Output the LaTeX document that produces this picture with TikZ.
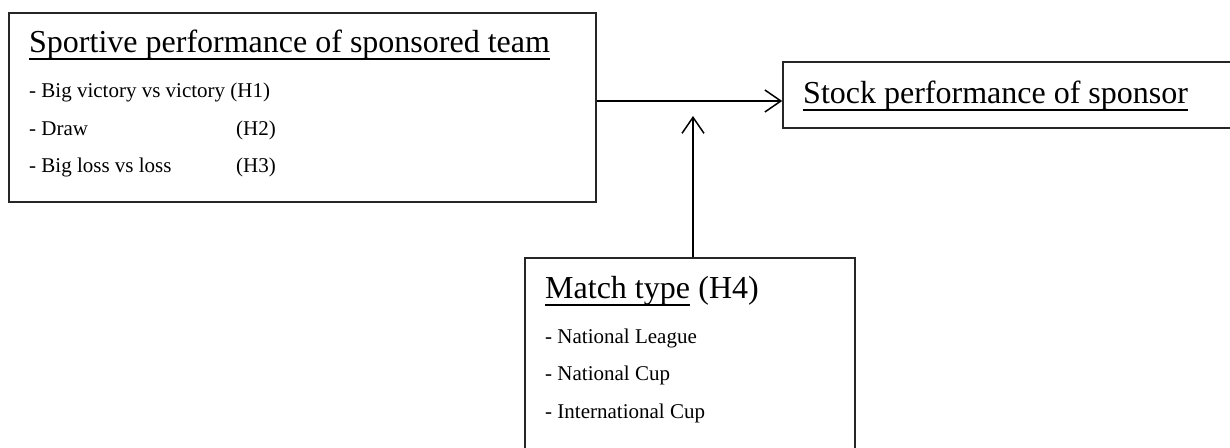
\documentclass[tikz,border=0pt]{standalone}
\usepackage{fontspec}
\setmainfont{Liberation Serif}
\usetikzlibrary{arrows.meta}
\tikzset{
  box/.style={draw=black!85, line width=1.6pt, rectangle, inner sep=0pt},
  ttl/.style={inner sep=0pt, anchor=base west, font=\fontsize{32}{38}\selectfont},
  itm/.style={inner sep=0pt, anchor=base west, font=\fontsize{21}{25}\selectfont},
  ul/.style={line width=1.6pt},
  arr/.style={line width=1.5pt, -{Straight Barb[length=16pt,width=22pt,line width=1.5pt]}}
}
\begin{document}
\begin{tikzpicture}[x=1pt,y=-1pt]
\useasboundingbox (0,0) rectangle (1230,447);
% boxes
\node[box, minimum width=587pt, minimum height=189pt] (b1) at (302.5,107.5) {};
\node[box, minimum width=470pt, minimum height=66pt] (b2) at (1018,95) {};
\node[box, minimum width=330pt, minimum height=212pt] (b3) at (690,364) {};
% box 1 texts
\node[ttl] (t1) at (29,52) {Sportive performance of sponsored team};
\draw[ul] ([yshift=-7pt]t1.base west) -- ([yshift=-7pt]t1.base east);
\node[itm] (i1) at (29,97) {- Big victory vs victory (H1)};
\node[itm] (i2) at (29,135) {- Draw};
\node[itm] (h2) at (236,135) {(H2)};
\node[itm] (i3) at (29,172) {- Big loss vs loss};
\node[itm] (h3) at (236,172) {(H3)};
% box 2 text
\node[ttl] (t2) at (803,103) {Stock performance of sponsor};
\draw[ul] ([yshift=-7pt]t2.base west) -- ([yshift=-7pt]t2.base east);
% box 3 texts
\node[ttl] (t3) at (545,298) {Match type};
\draw[ul] ([yshift=-7pt]t3.base west) -- ([yshift=-7pt]t3.base east);
\node[ttl] (h4) at ([xshift=8pt]t3.base east) {(H4)};
\node[itm] (m1) at (545,343) {- National League};
\node[itm] (m2) at (545,380) {- National Cup};
\node[itm] (m3) at (545,418) {- International Cup};
% connectors
\coordinate (j) at (693,101);
\draw[arr] (b1.east |- j) -- (b2.west |- j);
\draw[arr] (b3.north -| j) -- ([yshift=-15pt]j);
\end{tikzpicture}
\end{document}
